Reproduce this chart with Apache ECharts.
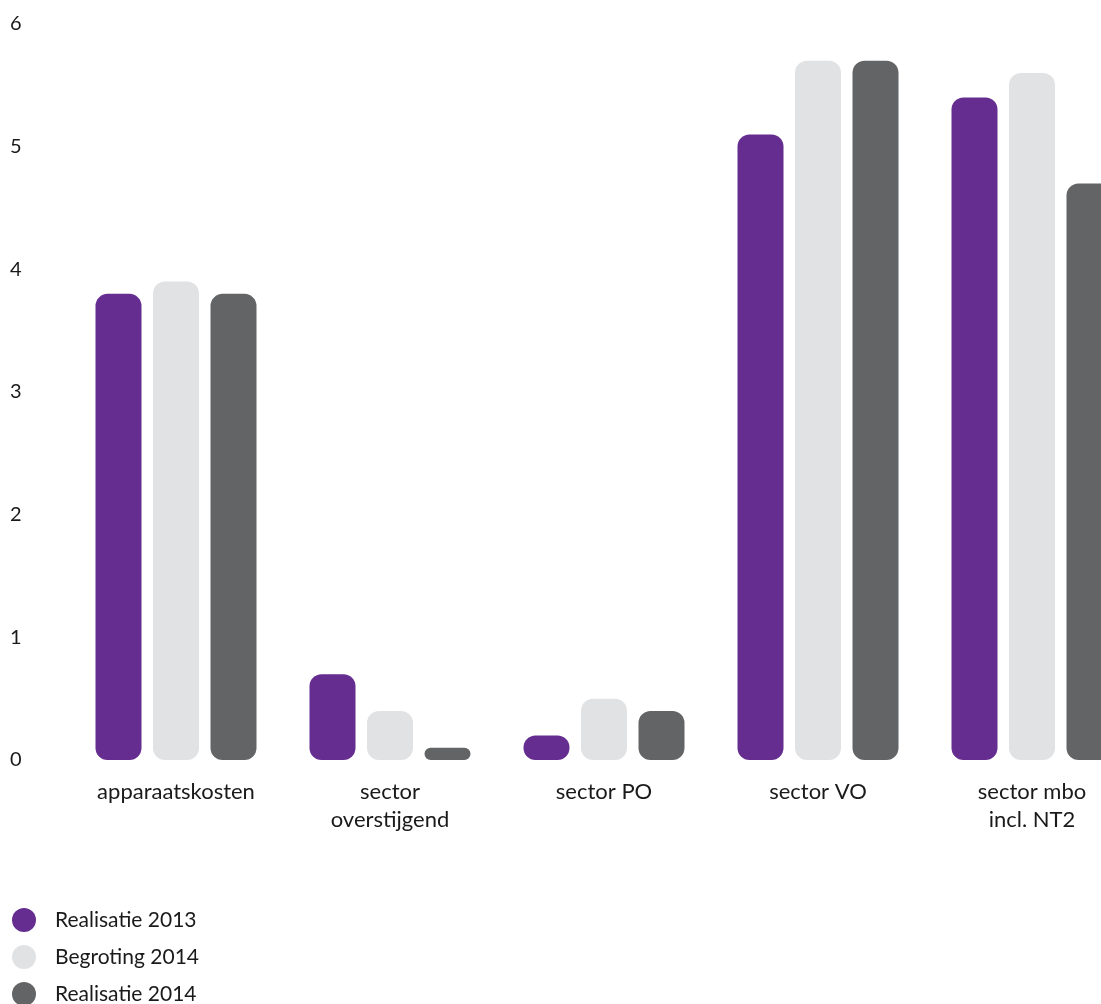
<!DOCTYPE html>
<html>
<head>
<meta charset="utf-8">
<script src="https://cdn.jsdelivr.net/npm/echarts@6/dist/echarts.min.js"></script>
<style>
html,body{margin:0;padding:0;background:#fff;}
#chart{width:1101px;height:1004px;}
</style>
</head>
<body>
<div id="chart"></div>
<script>
const categories = ['apparaatskosten', 'sector\noverstijgend', 'sector PO', 'sector VO', 'sector mbo\nincl. NT2'];
const realisatie2013 = [3.8, 0.7, 0.2, 5.1, 5.4];
const begroting2014 = [3.9, 0.4, 0.5, 5.7, 5.6];
const realisatie2014 = [3.8, 0.1, 0.4, 5.7, 4.7];
const seriesNames = ['Realisatie 2013', 'Begroting 2014', 'Realisatie 2014'];
const yTicks = [0, 1, 2, 3, 4, 5, 6];

const colors = ['#652d8f', '#e1e2e4', '#636466'];
const font = 'Lato, "Noto Sans", sans-serif';

const chart = echarts.init(document.getElementById('chart'));
const bar = (name, data, color) => ({
  name, type: 'bar', data,
  barWidth: 46, barGap: '25%',
  itemStyle: { color, borderRadius: 12 },
  emphasis: { disabled: true }
});
const legendFor = (name, i) => ({
  orient: 'vertical', left: 12, top: 908 + i * 37, padding: 0,
  icon: 'circle', itemWidth: 24, itemHeight: 24,
  textStyle: { fontFamily: font, fontSize: 21, color: '#1a1a1a', padding: [0, 0, 0, 14] },
  data: [name]
});
chart.setOption({
  animation: false,
  color: colors,
  grid: { left: 69, width: 1070, top: 24, bottom: 244, containLabel: false, outerBoundsMode: 'none' },
  legend: seriesNames.map(legendFor),
  xAxis: {
    type: 'category', data: categories,
    axisLine: { show: false }, axisTick: { show: false },
    axisLabel: { fontFamily: font, fontSize: 22, color: '#1a1a1a', margin: 18, lineHeight: 28, interval: 0 }
  },
  yAxis: {
    type: 'value', min: yTicks[0], max: yTicks[yTicks.length - 1], interval: 1,
    splitLine: { show: false }, axisLine: { show: false }, axisTick: { show: false },
    axisLabel: { fontFamily: font, fontSize: 20, color: '#1a1a1a', align: 'left', margin: 59 }
  },
  series: [
    bar(seriesNames[0], realisatie2013, colors[0]),
    bar(seriesNames[1], begroting2014, colors[1]),
    bar(seriesNames[2], realisatie2014, colors[2])
  ]
});
</script>
</body>
</html>
